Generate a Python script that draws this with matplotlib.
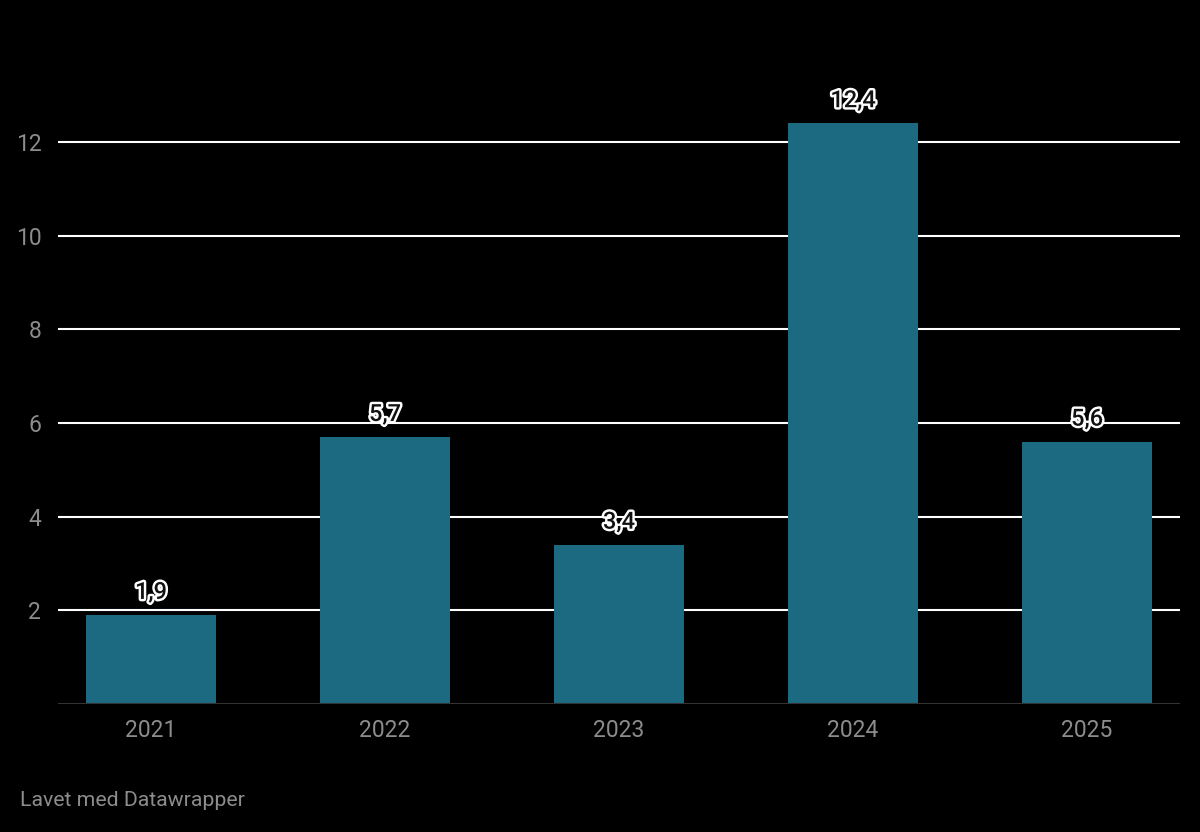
import matplotlib
matplotlib.use("Agg")
import matplotlib.pyplot as plt
import matplotlib.patheffects as pe

years = ["2021", "2022", "2023", "2024", "2025"]
values = [1.9, 5.7, 3.4, 12.4, 5.6]
labels = ["1,9", "5,7", "3,4", "12,4", "5,6"]
yticks = [2, 4, 6, 8, 10, 12]

plt.rcParams['font.family'] = ['Roboto', 'DejaVu Sans']

fig = plt.figure(figsize=(12, 8.32), dpi=100, facecolor='black')
ax = fig.add_axes([58/1200, 1 - 704/832, (1180-58)/1200, (704-48.4)/832])
ax.set_facecolor('black')

x = list(range(len(years)))
ax.bar(x, values, width=0.556, color='#1c6a82', zorder=3)

ax.set_xlim(-0.397, 4.397)
ax.set_ylim(0, 14)
ax.set_yticks(yticks)
ax.set_yticklabels([str(t) for t in yticks])
ax.set_xticks(x)
ax.set_xticklabels(years)
ax.yaxis.grid(True, color='white', linewidth=1.5, zorder=1)
ax.axhline(0, color='#333333', linewidth=1.5, zorder=4)
ax.tick_params(axis='both', length=0, colors='#8c8c8c', labelsize=16.5)
ax.tick_params(axis='y', pad=12)
ax.tick_params(axis='x', pad=11)
for s in ax.spines.values():
    s.set_visible(False)

for xi, v, lab in zip(x, values, labels):
    ax.annotate(lab, (xi, v), xytext=(0, 8), textcoords='offset points',
                ha='center', va='bottom', fontsize=17, fontweight='medium',
                color='#111111', zorder=5,
                path_effects=[pe.withStroke(linewidth=3.5, foreground='white')])

fig.text(20/1200, 1 - 800/832, "Lavet med Datawrapper", color='#8c8c8c',
         fontsize=15.3, ha='left', va='center')

fig.savefig("out.png", dpi=100, facecolor='black')
